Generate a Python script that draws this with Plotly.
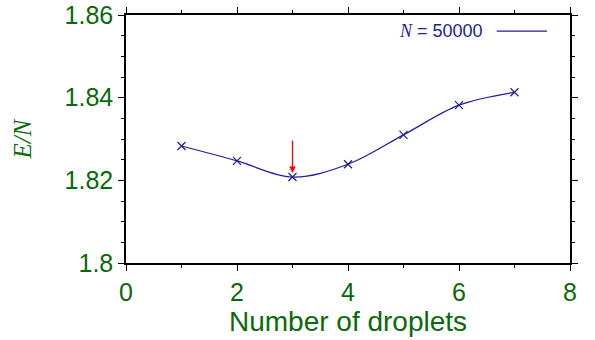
import plotly.graph_objects as go

droplets = [1, 2, 3, 4, 5, 6, 7]
energy_per_n = [1.8283, 1.8247, 1.8208, 1.8239, 1.8310, 1.8382, 1.8413]
x_ticks = [0, 2, 4, 6, 8]
y_ticks = [1.80, 1.82, 1.84, 1.86]
y_tick_text = ["1.8", "1.82", "1.84", "1.86"]
arrow_x = 3
arrow_tip = 1.8218
arrow_tail = 1.8300

GREEN = "#0a6a0a"
BLUE = "#1e1e9a"
SANS = "Liberation Sans, Arial, sans-serif"

fig = go.Figure()
fig.add_trace(go.Scatter(
    x=droplets, y=energy_per_n, mode="lines+markers",
    line=dict(color=BLUE, width=1.2, shape="spline", smoothing=1.0),
    marker=dict(symbol="x-thin", size=8, line=dict(color=BLUE, width=1.2)),
    showlegend=False,
))

fig.add_annotation(
    x=arrow_x, y=arrow_tip, ax=arrow_x, ay=arrow_tail,
    xref="x", yref="y", axref="x", ayref="y",
    showarrow=True, arrowhead=2, arrowsize=1, arrowwidth=1.3,
    arrowcolor="red", text="",
)

# legend-like label: text then line sample
fig.add_annotation(
    xref="paper", yref="paper", x=0.808, y=0.935, xanchor="right", yanchor="middle",
    text="<i><span style='font-family:\"Liberation Serif\",\"DejaVu Serif\",serif'>N</span></i> = 50000",
    showarrow=False, font=dict(family=SANS, size=18, color=BLUE),
)
fig.add_shape(type="line", xref="paper", yref="paper",
              x0=0.835, x1=0.948, y0=0.935, y1=0.935,
              line=dict(color=BLUE, width=1.2))

axis_common = dict(
    showline=True, linecolor="black", linewidth=1.5, mirror="ticks",
    ticks="outside", ticklen=6, tickwidth=1.3, tickcolor="black",
    showgrid=False, zeroline=False, automargin=False,
    ticklabeloverflow="allow",
    tickfont=dict(family=SANS, size=25, color=GREEN),
)

fig.update_xaxes(
    range=[0, 8], tickvals=x_ticks,
    minor=dict(dtick=1, ticklen=3, tickwidth=1.2, tickcolor="black", ticks="outside"),
    title=dict(text="Number of droplets", standoff=4,
               font=dict(family=SANS, size=28, color=GREEN)),
    **axis_common,
)
fig.update_yaxes(
    range=[1.80, 1.86], tickvals=y_ticks, ticktext=y_tick_text,
    minor=dict(dtick=0.005, ticklen=3, tickwidth=1.2, tickcolor="black", ticks="outside"),
    title=dict(text="<i>E/N</i>", standoff=26,
               font=dict(family="Liberation Serif, Times New Roman, serif", size=25, color=GREEN)),
    **axis_common,
)

fig.update_layout(
    width=595, height=340,
    margin=dict(l=126, r=25, t=15, b=77),
    paper_bgcolor="white", plot_bgcolor="white",
)

# remove the browser's default 8px body margin so the figure fills the window exactly
fig.write_html("out.html", config={"displayModeBar": False},
               post_script="document.body.style.margin='0';")
